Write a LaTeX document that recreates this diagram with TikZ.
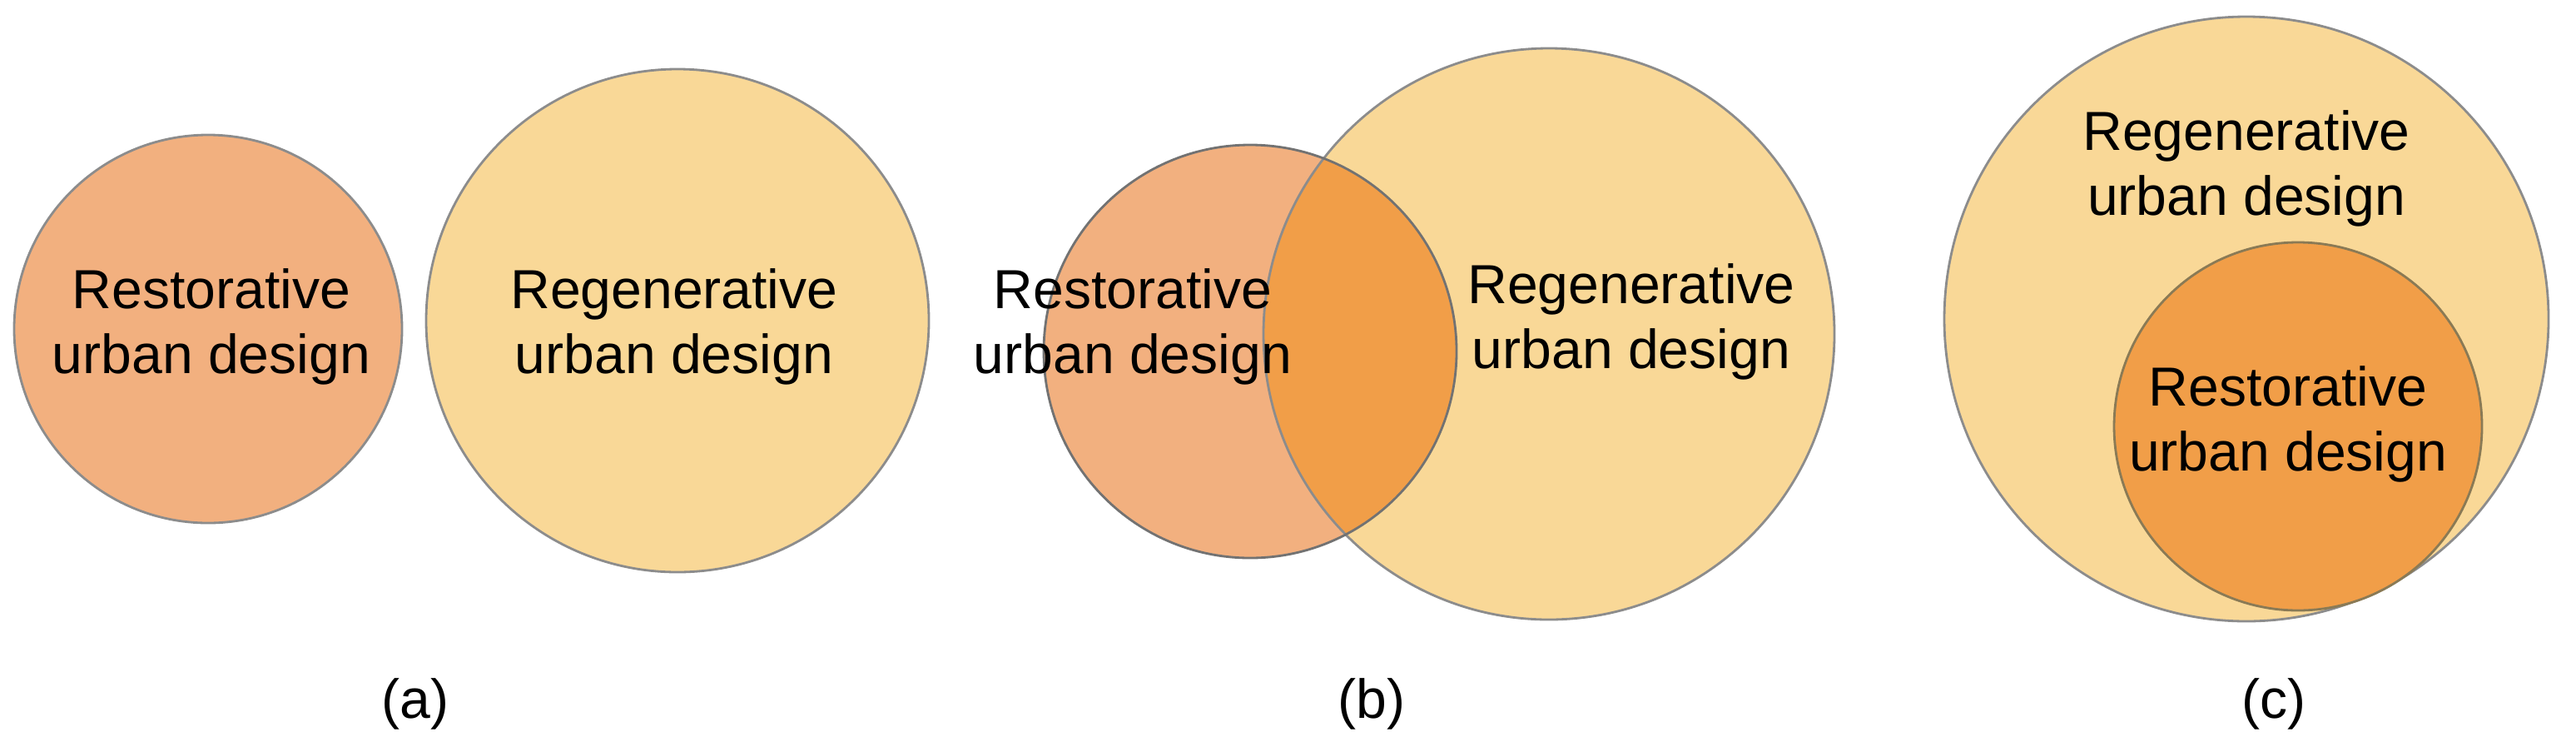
\documentclass[tikz,border=0pt]{standalone}
\usepackage{fontspec}
\setmainfont{Liberation Sans}
\usepackage{xcolor}
\definecolor{restlight}{HTML}{F2B07F}
\definecolor{regen}{HTML}{F9D897}
\definecolor{restdeep}{HTML}{F19E48}
\definecolor{rim}{HTML}{8C8C8C}
\definecolor{rimdark}{HTML}{727272}
\definecolor{rimbrown}{HTML}{8A7A55}

\begin{document}
\begin{tikzpicture}[font=\fontsize{18.8}{22.2}\selectfont,
    txt/.style={align=center,inner sep=0pt},
    ring/.style={line width=0.8pt}]
  \useasboundingbox (0,0) rectangle (30.95,9.02);

  % (a) separate
  \filldraw[ring,fill=restlight,draw=rim] (2.50,5.07) circle (2.33);
  \filldraw[ring,fill=regen,draw=rim] (8.14,5.17) circle (3.02);
  \node[txt] (resA) at (2.54,5.10) {Restorative\\urban design};
  \node[txt] (regA) at (8.10,5.10) {Regenerative\\urban design};
  \node (capA) at (4.99,0.57) {(a)};

  % (b) overlapping
  \fill[restlight] (15.02,4.80) circle (2.48);
  \fill[regen] (18.61,5.01) circle (3.43);
  \begin{scope}
    \clip (15.02,4.80) circle (2.48);
    \fill[restdeep] (18.61,5.01) circle (3.43);
  \end{scope}
  \draw[ring,rim] (18.61,5.01) circle (3.43);
  \draw[ring,rimdark] (15.02,4.80) circle (2.48);
  \node[txt] (resB) at (13.61,5.10) {Restorative\\urban design};
  \node[txt] (regB) at (19.60,5.16) {Regenerative\\urban design};
  \node (capB) at (16.48,0.57) {(b)};

  % (c) nested
  \filldraw[ring,fill=regen,draw=rim] (26.99,5.19) circle (3.63);
  \filldraw[ring,fill=restdeep,draw=rimbrown] (27.61,3.90) circle (2.21);
  \node[txt] (regC) at (26.99,7.00) {Regenerative\\urban design};
  \node[txt] (resC) at (27.49,3.93) {Restorative\\urban design};
  \node (capC) at (27.32,0.57) {(c)};
\end{tikzpicture}
\end{document}
